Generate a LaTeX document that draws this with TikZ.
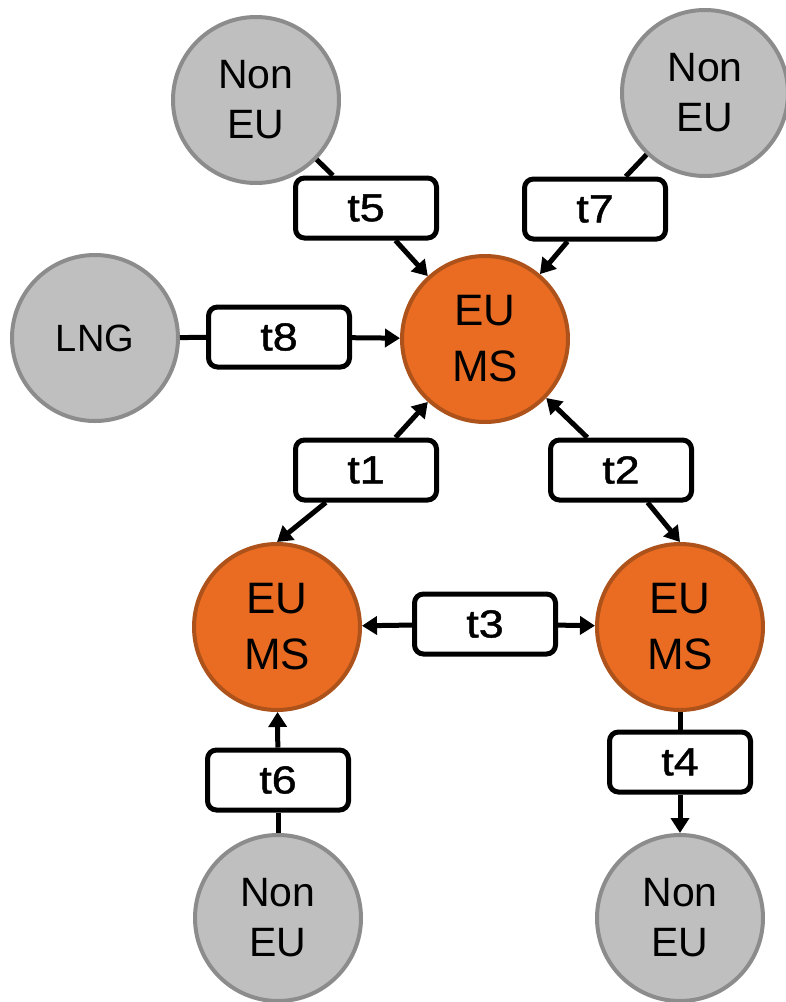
\documentclass[tikz,border=0pt]{standalone}
\usepackage{fontspec}
\setmainfont{Liberation Sans}
\newfontfamily\boxfont{Liberation Sans}[FakeStretch=1.15,FakeBold=1.2]
\usetikzlibrary{arrows.meta}

\definecolor{msfill}{RGB}{234,108,35}
\definecolor{msline}{RGB}{172,82,26}
\definecolor{nonfill}{RGB}{191,191,191}
\definecolor{nonline}{RGB}{140,140,140}

\begin{document}
\begin{tikzpicture}[
  x=1pt, y=-1pt,
  >={Triangle[length=15pt,width=18pt]},
  ms/.style={circle, draw=msline, fill=msfill, line width=4pt, minimum size=166pt, inner sep=0pt, align=center, font=\fontsize{44}{56}\selectfont},
  non/.style={circle, draw=nonline, fill=nonfill, line width=4pt, minimum size=166pt, inner sep=0pt, align=center, font=\fontsize{41}{50}\selectfont},
  flow/.style={draw, fill=white, rounded corners=9pt, line width=5pt, minimum width=141pt, minimum height=60pt, inner sep=0pt, font=\boxfont\fontsize{39}{42}\selectfont},
  link/.style={line width=5pt},
  arrow/.style={->, line width=5pt}
]
\useasboundingbox (0,0) rectangle (786,1002);

% member states and outside sources
\node[ms] (ms) at (485,339) {EU\\MS};
\node[ms] (msW) at (277,627) {EU\\MS};
\node[ms] (msE) at (680,627) {EU\\MS};

\node[non] (non5) at (256,100) {Non\\EU};
\node[non] (non7) at (705,93) {Non\\EU};
\node[non, font=\fontsize{38}{40}\selectfont] (lng) at (95,338) {LNG};
\node[non] (non6) at (278,918) {Non\\EU};
\node[non] (non4) at (680,918) {Non\\EU};

% transfer boxes
\node[flow] (t5) at (366,208) {t5};
\node[flow] (t7) at (595,209) {t7};
\node[flow] (t8) at (279,337) {t8};
\node[flow] (t1) at (366,470) {t1};
\node[flow] (t2) at (621,470) {t2};
\node[flow] (t3) at (485,624) {t3};
\node[flow] (t6) at (278,780) {t6};
\node[flow] (t4) at (680,762) {t4};

\draw[link] (non5) -- (t5);
\draw[arrow] (t5) -- (ms);
\draw[link] (non7) -- (t7);
\draw[arrow] (t7) -- (ms);
\draw[link] (lng) -- (t8);
\draw[arrow] (t8) -- (ms);

\draw[arrow] (t1) -- (ms);
\draw[arrow] (t1) -- (msW.north);
\draw[arrow] (t2) -- (ms);
\draw[arrow] (t2) -- (msE.north);
\draw[arrow] (t3) -- (msW);
\draw[arrow] (t3) -- (msE);

\draw[link] (non6) -- (t6);
\draw[arrow] (t6) -- (msW);
\draw[link] (msE) -- (t4);
\draw[arrow] (t4) -- (non4);

\end{tikzpicture}
\end{document}
